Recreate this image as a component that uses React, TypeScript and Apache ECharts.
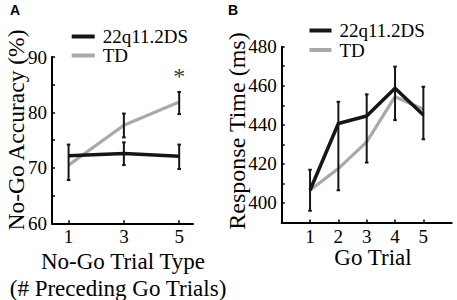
import React, { useEffect, useRef } from "react";
import * as echarts from "echarts";

// Panel A: No-Go accuracy
const trialTypesA = [1, 3, 5];
const accDS = [72.2, 72.6, 72.1];
const accTD = [70.5, 77.7, 81.9];
const accErrX = [1, 3, 3, 5, 5];
const accErrLow = [67.8, 70.5, 75.5, 69.8, 79.7];
const accErrHigh = [74.2, 74.6, 79.8, 74.2, 83.7];
const accTicksY = [60, 70, 80, 90];
const sigX = [5];
const sigY = [86.5];

// Panel B: Go response time
const goTrialsB = [1, 2, 3, 4, 5];
const rtDS = [406.5, 440.7, 444.5, 458.7, 445];
const rtTD = [406.5, 417.6, 431.3, 454.4, 448];
const rtErrLow = [396, 406.5, 420.7, 442.4, 432.6];
const rtErrHigh = [417, 451.8, 455.6, 469.8, 459.5];

const SERIF = "'Liberation Serif', 'Times New Roman', serif";
const BLACK = "#161616";
const GRAY = "#a9a9a9";

function errorBarRender(params: any, api: any) {
  const x = api.value(0);
  const lo = api.coord([x, api.value(1)]);
  const hi = api.coord([x, api.value(2)]);
  const cap = 1.8;
  const st = { stroke: BLACK, lineWidth: 2 };
  return {
    type: "group",
    children: [
      { type: "line", shape: { x1: lo[0], y1: lo[1], x2: hi[0], y2: hi[1] }, style: st },
      { type: "line", shape: { x1: lo[0] - cap, y1: lo[1], x2: lo[0] + cap, y2: lo[1] }, style: st },
      { type: "line", shape: { x1: hi[0] - cap, y1: hi[1], x2: hi[0] + cap, y2: hi[1] }, style: st },
    ],
  };
}

const axisCommon = {
  axisLine: { show: true, lineStyle: { color: "#000", width: 2 } },
  axisTick: { show: true, inside: true, length: 3, lineStyle: { color: "#000", width: 1.5 } },
  splitLine: { show: false },
  axisLabel: { color: "#000", fontSize: 19, fontFamily: SERIF },
};

export default function App() {
  const ref = useRef<HTMLDivElement>(null);
  useEffect(() => {
    if (!ref.current) return;
    const chart = echarts.init(ref.current, null, { renderer: "svg" });
    const legendText = { fontSize: 19, fontFamily: SERIF, color: "#000", lineHeight: 17, padding: [0, 0, 0, 3] };
    const option: any = {
      animation: false,
      backgroundColor: "#fff",
      grid: [
        { left: 52, top: 57, width: 141, height: 166.3 },
        { left: 281.7, top: 46.7, width: 170, height: 175.8 },
      ],
      xAxis: [
        {
          ...axisCommon,
          gridIndex: 0,
          type: "value",
          min: 0.4,
          max: 5.5,
          axisTick: { ...axisCommon.axisTick, customValues: trialTypesA },
          axisLabel: { ...axisCommon.axisLabel, margin: 4, customValues: trialTypesA },
        },
        {
          ...axisCommon,
          gridIndex: 1,
          type: "value",
          min: 0,
          max: 6,
          axisTick: { ...axisCommon.axisTick, customValues: goTrialsB },
          axisLabel: { ...axisCommon.axisLabel, margin: 4, customValues: goTrialsB },
        },
      ],
      yAxis: [
        {
          ...axisCommon,
          gridIndex: 0,
          type: "value",
          min: 60,
          max: 90,
          interval: 5,
          axisLabel: {
            ...axisCommon.axisLabel,
            margin: 5,
            formatter: (v: number) => (accTicksY.includes(v) ? String(v) : ""),
          },
        },
        {
          ...axisCommon,
          gridIndex: 1,
          type: "value",
          min: 390,
          max: 480,
          interval: 10,
          axisLabel: {
            ...axisCommon.axisLabel,
            margin: 5,
            formatter: (v: number) => (v % 20 === 0 ? String(v) : ""),
          },
        },
      ],
      legend: [
        {
          orient: "vertical",
          left: 66.7,
          top: 22,
          itemGap: 0,
          itemWidth: 23,
          itemHeight: 4,
          icon: "rect",
          data: ["22q11.2DS", "TD"],
          textStyle: legendText,
          selectedMode: false,
        },
        {
          orient: "vertical",
          left: 304.5,
          top: 16,
          itemGap: 0.5,
          itemWidth: 22,
          itemHeight: 4,
          icon: "rect",
          data: ["22q11.2DS", "TD"],
          textStyle: legendText,
          selectedMode: false,
        },
      ],
      series: [
        {
          name: "TD",
          type: "line",
          xAxisIndex: 0,
          yAxisIndex: 0,
          data: trialTypesA.map((x, i) => [x, accTD[i]]),
          showSymbol: false,
          symbol: "none",
          color: GRAY,
          lineStyle: { color: GRAY, width: 3.2 },
          z: 2,
        },
        {
          name: "22q11.2DS",
          type: "line",
          xAxisIndex: 0,
          yAxisIndex: 0,
          data: trialTypesA.map((x, i) => [x, accDS[i]]),
          showSymbol: false,
          symbol: "none",
          color: BLACK,
          lineStyle: { color: BLACK, width: 3.5 },
          z: 3,
        },
        {
          type: "custom",
          xAxisIndex: 0,
          yAxisIndex: 0,
          renderItem: errorBarRender,
          data: accErrX.map((x, i) => [x, accErrLow[i], accErrHigh[i]]),
          encode: { x: 0, y: [1, 2] },
          z: 4,
          silent: true,
        },
        {
          type: "scatter",
          xAxisIndex: 0,
          yAxisIndex: 0,
          data: sigX.map((x, i) => [x, sigY[i]]),
          symbolSize: 0.1,
          itemStyle: { color: "rgba(0,0,0,0)" },
          label: {
            show: true,
            position: "inside",
            formatter: "*",
            color: "#000",
            fontSize: 24,
            fontFamily: SERIF,
          },
          z: 5,
          silent: true,
        },
        {
          name: "TD",
          type: "line",
          xAxisIndex: 1,
          yAxisIndex: 1,
          data: goTrialsB.map((x, i) => [x, rtTD[i]]),
          showSymbol: false,
          symbol: "none",
          color: GRAY,
          lineStyle: { color: GRAY, width: 3.2 },
          z: 2,
        },
        {
          name: "22q11.2DS",
          type: "line",
          xAxisIndex: 1,
          yAxisIndex: 1,
          data: goTrialsB.map((x, i) => [x, rtDS[i]]),
          showSymbol: false,
          symbol: "none",
          color: BLACK,
          lineStyle: { color: BLACK, width: 3.5 },
          z: 3,
        },
        {
          type: "custom",
          xAxisIndex: 1,
          yAxisIndex: 1,
          renderItem: errorBarRender,
          data: goTrialsB.map((x, i) => [x, rtErrLow[i], rtErrHigh[i]]),
          encode: { x: 0, y: [1, 2] },
          z: 4,
          silent: true,
        },
      ],
      graphic: [
        {
          type: "text",
          x: 15,
          y: 10,
          style: { text: "A", font: "bold 14px 'Liberation Sans', Arial, sans-serif", fill: "#000", textAlign: "center", textVerticalAlign: "middle" },
        },
        {
          type: "text",
          x: 233,
          y: 10,
          style: { text: "B", font: "bold 14px 'Liberation Sans', Arial, sans-serif", fill: "#000", textAlign: "center", textVerticalAlign: "middle" },
        },
        {
          type: "text",
          x: 16,
          y: 130,
          rotation: Math.PI / 2,
          style: { text: "No-Go Accuracy (%)", font: `23.5px ${SERIF}`, fill: "#000", textAlign: "center", textVerticalAlign: "middle" },
        },
        {
          type: "text",
          x: 237,
          y: 131,
          rotation: Math.PI / 2,
          style: { text: "Response Time (ms)", font: `24px ${SERIF}`, fill: "#000", textAlign: "center", textVerticalAlign: "middle" },
        },
        {
          type: "text",
          x: 123,
          y: 261,
          style: { text: "No-Go Trial Type", font: `23px ${SERIF}`, fill: "#000", textAlign: "center", textVerticalAlign: "middle" },
        },
        {
          type: "text",
          x: 118,
          y: 288,
          style: { text: "(# Preceding Go Trials)", font: `23px ${SERIF}`, fill: "#000", textAlign: "center", textVerticalAlign: "middle" },
        },
        {
          type: "text",
          x: 373,
          y: 257,
          style: { text: "Go Trial", font: `23px ${SERIF}`, fill: "#000", textAlign: "center", textVerticalAlign: "middle" },
        },
      ],
    };
    chart.setOption(option);
    return () => chart.dispose();
  }, []);
  return <div ref={ref} style={{ position: "fixed", left: 0, top: 0, width: 457, height: 300 }} />;
}
